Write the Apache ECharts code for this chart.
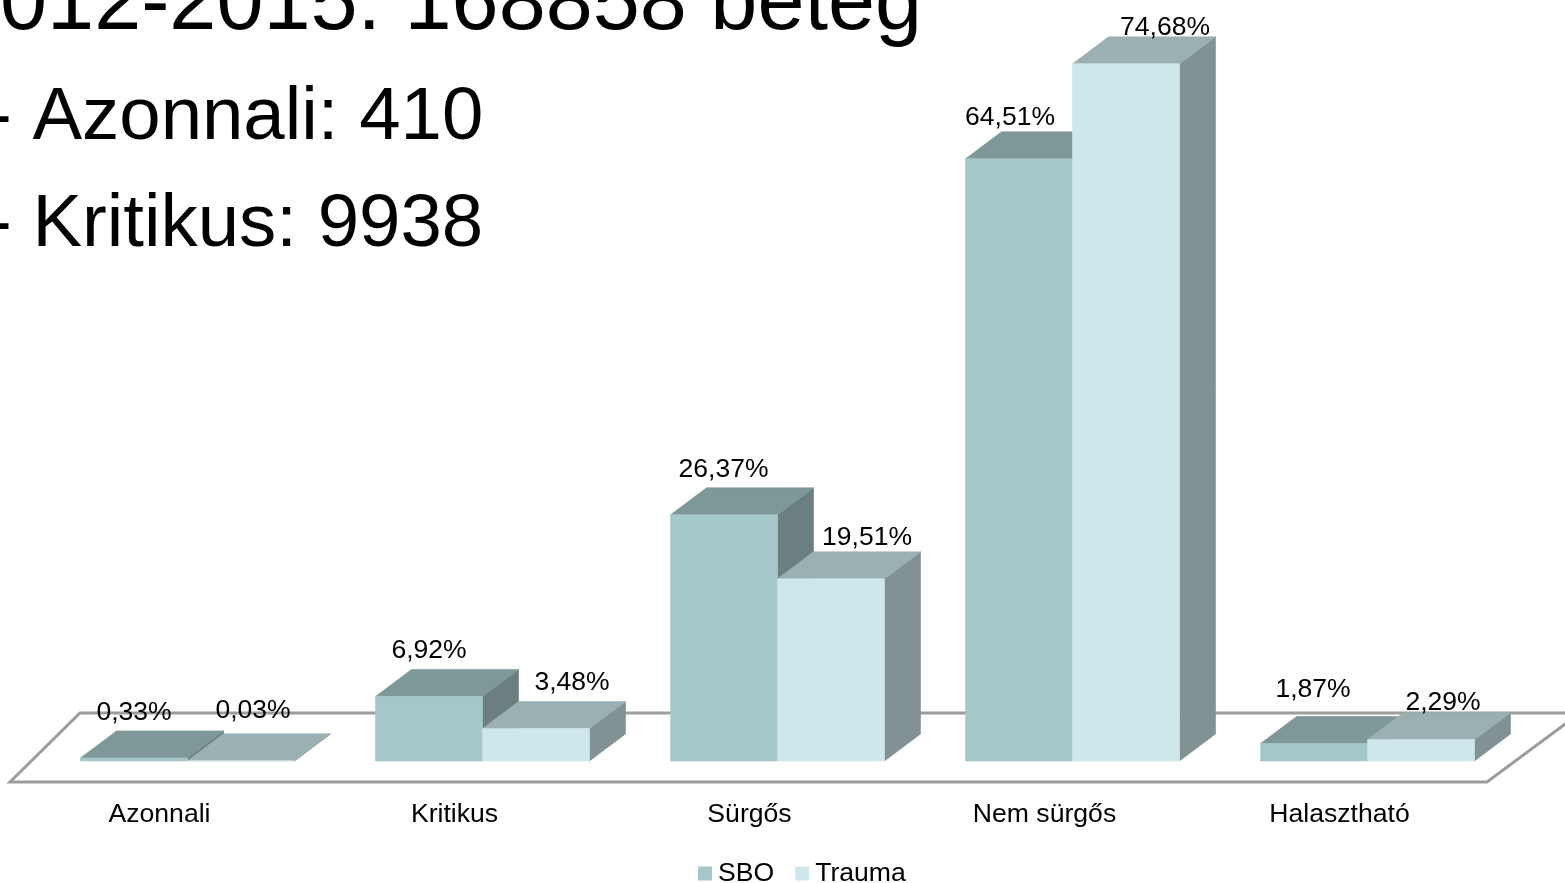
<!DOCTYPE html>
<html>
<head>
<meta charset="utf-8">
<style>html,body{margin:0;padding:0;background:#fff}#c{width:1565px;height:883px}</style>
<script src="https://cdn.jsdelivr.net/npm/echarts@6/dist/echarts.min.js"></script>
</head>
<body>
<div id="c"></div>
<script>
const categories = ['Azonnali', 'Kritikus', 'Sürgős', 'Nem sürgős', 'Halasztható'];
const sboValues = [0.33, 6.92, 26.37, 64.51, 1.87];
const traumaValues = [0.03, 3.48, 19.51, 74.68, 2.29];
const headingLines = ['2012-2015: 168858 beteg', '- Azonnali: 410', '- Kritikus: 9938'];

// hand-placed label nudges from the top-front centre of each bar [dx, dy], as in the original slide
const sboNudge = [[0, -45], [0, -46], [-0.5, -45], [-9, -41], [-1, -54]];
const traumaNudge = [[12, -50], [36, -46], [36, -41], [39, -36], [22, -37]];

const FONT = '"Liberation Sans", Arial, sans-serif';
const DEPTH_X = 36, DEPTH_Y = 27;
const BAR_RATIO = 107 / 295, SHIFT_RATIO = 28 / 295;

const sboColors = {front: '#a5c7c9', top: '#7e9799', side: '#6b7f81'};
const traumaColors = {front: '#cee7eb', top: '#9bb0b2', side: '#829194'};

function fmt(v) { return v.toFixed(2).replace('.', ',') + '%'; }

function barGeom(api, cat, val, seriesIndex) {
  const band = api.size([1, 0])[0];
  const w = band * BAR_RATIO;
  const c = api.coord([cat, val]);
  const base = api.coord([cat, 0]);
  const left = c[0] + band * SHIFT_RATIO - w + seriesIndex * w;
  return {left, w, top: c[1], base: base[1]};
}

function poly(points, fill) {
  return {type: 'polygon', shape: {points}, style: {fill, stroke: fill, lineWidth: 0.6}};
}

function barRenderer(seriesIndex, colors) {
  return function (params, api) {
    const g = barGeom(api, api.value(0), api.value(1), seriesIndex);
    const l = g.left, r = g.left + g.w, t = g.top, b = g.base;
    return {type: 'group', children: [
      poly([[r, t], [r + DEPTH_X, t - DEPTH_Y], [r + DEPTH_X, b - DEPTH_Y], [r, b]], colors.side),
      poly([[l, t], [l + DEPTH_X, t - DEPTH_Y], [r + DEPTH_X, t - DEPTH_Y], [r, t]], colors.top),
      poly([[l, t], [r, t], [r, b], [l, b]], colors.front)
    ]};
  };
}

function labelRenderer(seriesIndex, nudges) {
  return function (params, api) {
    const cat = api.value(0), val = api.value(1);
    const g = barGeom(api, cat, val, seriesIndex);
    const n = nudges[cat];
    return {type: 'text', x: g.left + g.w / 2 + n[0], y: g.top + n[1], style: {
      text: fmt(val), font: '26.5px ' + FONT, fill: '#000',
      textAlign: 'center', textVerticalAlign: 'middle'
    }};
  };
}

function floorRenderer(params, api) {
  const band = api.size([1, 0])[0];
  const o = api.coord([0, 0]);
  const x0 = o[0] - band / 2, xEnd = x0 + band * categories.length, y = o[1];
  return {type: 'polygon', shape: {points: [
    [x0 - 2, y + 21], [xEnd, y + 21], [xEnd + 93, y - 48], [x0 + 68, y - 48]
  ]}, style: {fill: 'none', stroke: '#9c9c9c', lineWidth: 3}};
}

const chart = echarts.init(document.getElementById('c'));
const toRows = arr => arr.map((v, i) => [i, v]);

chart.setOption({
  animation: false,
  backgroundColor: '#fff',
  grid: {left: 12, width: 1475, top: 14.2, bottom: 122},
  xAxis: {
    type: 'category', data: categories,
    axisLine: {show: false}, axisTick: {show: false}, splitLine: {show: false},
    axisLabel: {fontFamily: FONT, fontSize: 26.6, color: '#000', margin: 40}
  },
  yAxis: {type: 'value', min: 0, max: 80, show: false, splitLine: {show: false}},
  legend: {
    data: [
      {name: 'SBO', itemStyle: {color: sboColors.front}},
      {name: 'Trauma', itemStyle: {color: traumaColors.front}}
    ],
    left: 698, top: 860, icon: 'rect', itemWidth: 14, itemHeight: 14, itemGap: 21, padding: 0,
    textStyle: {fontFamily: FONT, fontSize: 26.6, color: '#000', padding: [0, 0, 0, 1]},
    selectedMode: false
  },
  series: [
    {type: 'custom', name: 'floor', data: [[0, 0]], renderItem: floorRenderer, z: 1, silent: true},
    {type: 'custom', name: 'SBO', data: toRows(sboValues), renderItem: barRenderer(0, sboColors),
     itemStyle: {color: sboColors.front}, encode: {x: 0, y: 1}, z: 2},
    {type: 'custom', name: 'Trauma', data: toRows(traumaValues), renderItem: barRenderer(1, traumaColors),
     itemStyle: {color: traumaColors.front}, encode: {x: 0, y: 1}, z: 3},
    {type: 'custom', name: 'sboLabels', data: toRows(sboValues), renderItem: labelRenderer(0, sboNudge), z: 5, silent: true},
    {type: 'custom', name: 'traumaLabels', data: toRows(traumaValues), renderItem: labelRenderer(1, traumaNudge), z: 5, silent: true}
  ],
  graphic: [
    {type: 'text', x: -47, y: 6, z: 10, silent: true, style: {text: headingLines[0], font: '84.6px ' + FONT, fill: '#000', textVerticalAlign: 'middle'}},
    {type: 'text', x: -13, y: 118, z: 10, silent: true, style: {text: headingLines[1], font: '74.4px ' + FONT, fill: '#000', textVerticalAlign: 'middle'}},
    {type: 'text', x: -13, y: 225, z: 10, silent: true, style: {text: headingLines[2], font: '74.4px ' + FONT, fill: '#000', textVerticalAlign: 'middle'}}
  ]
});
</script>
</body>
</html>
